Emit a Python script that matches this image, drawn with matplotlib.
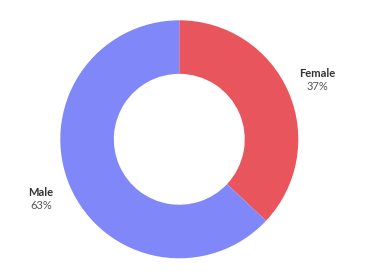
import matplotlib
matplotlib.use("Agg")
import matplotlib.pyplot as plt
import numpy as np

labels = ["Female", "Male"]
values = [37, 63]
colors = ["#E9555D", "#8087F8"]

W, H = 366, 275
fig = plt.figure(figsize=(W / 100, H / 100), dpi=100)
ax = fig.add_axes([0, 0, 1, 1])

cx, cy = 179.3, H - 139.3
R = 119
wedges, _ = ax.pie(values, colors=colors, startangle=90, counterclock=False,
                   center=(cx, cy), radius=R,
                   wedgeprops=dict(width=R * 0.45, edgecolor="none"))
ax.set_xlim(0, W)
ax.set_ylim(0, H)
ax.set_aspect("equal")
ax.axis("off")

total = sum(values)
start = 90.0
for lab, v in zip(labels, values):
    ang = np.deg2rad(start - v / total * 360 / 2)
    start -= v / total * 360
    x = cx + 1.265 * R * np.cos(ang)
    y = cy + 1.265 * R * np.sin(ang)
    ax.text(x, y + 3, lab, ha="center", va="baseline", fontsize=8,
            fontweight="bold", color="#333333", family="Lato")
    ax.text(x, y - 10, f"{v}%", ha="center", va="baseline", fontsize=8,
            color="#555555", family="Lato")

fig.savefig("out.png", dpi=100)
